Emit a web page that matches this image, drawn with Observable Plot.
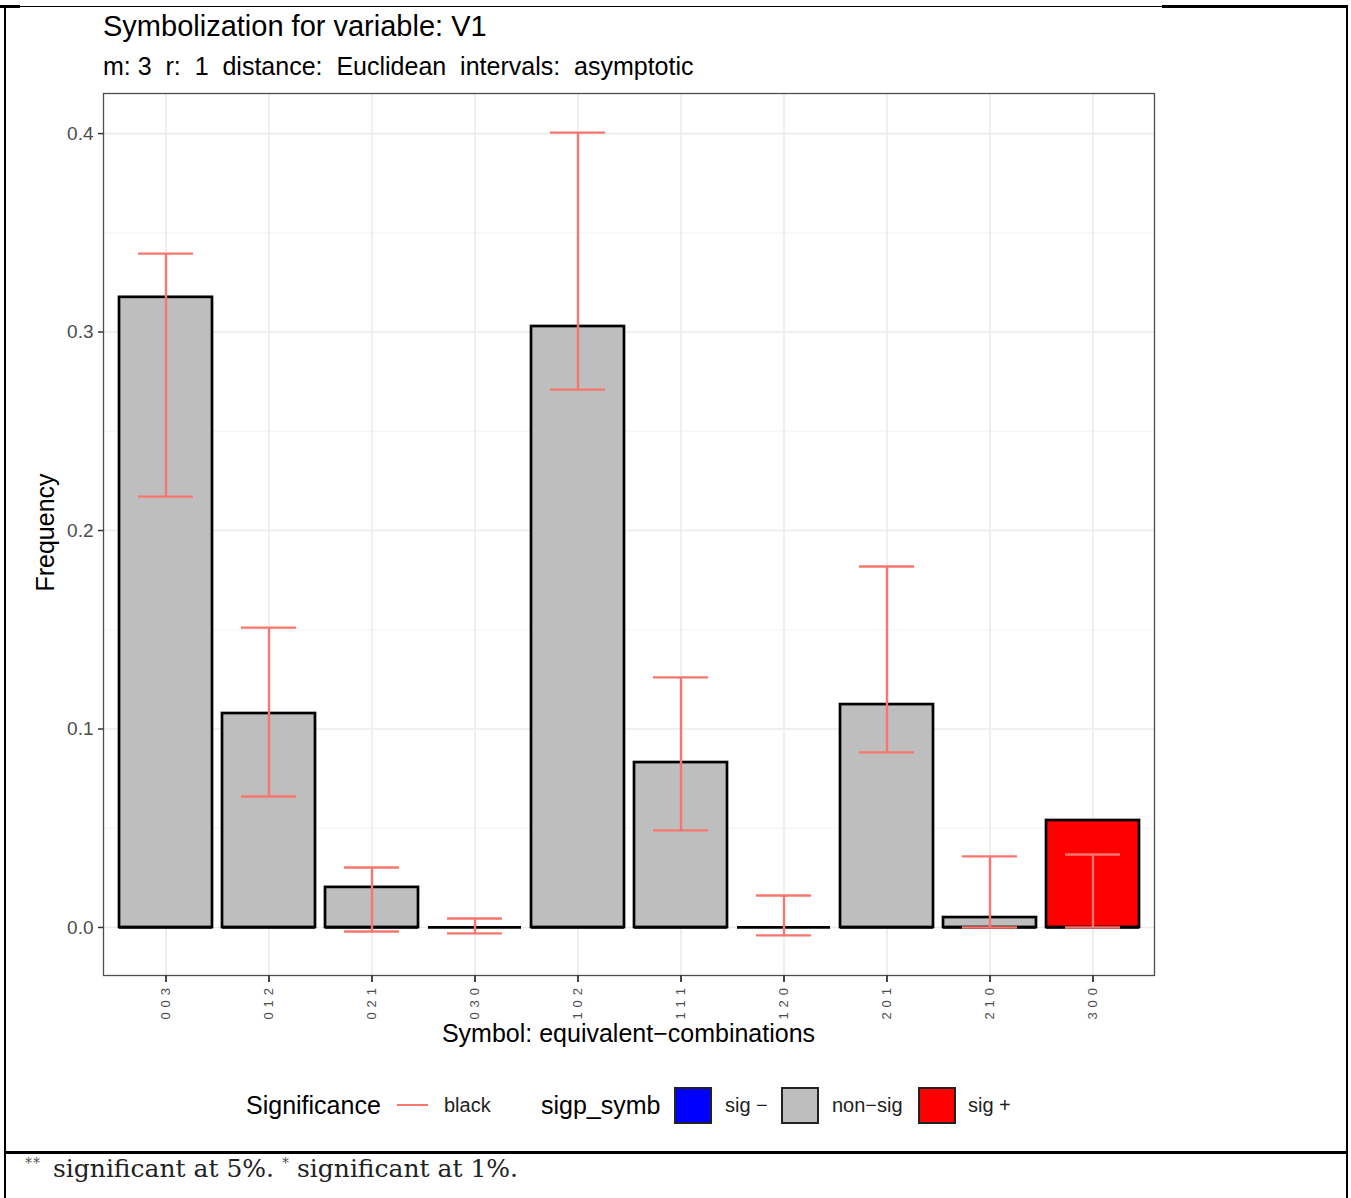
<!DOCTYPE html>
<html>
<head>
<meta charset="utf-8">
<script src="https://cdn.jsdelivr.net/npm/d3@7"></script>
<script src="https://cdn.jsdelivr.net/npm/@observablehq/plot@0.6"></script>
<style>
  html, body { margin: 0; padding: 0; background: #fff; }
  #page { position: relative; width: 1351px; height: 1198px; overflow: hidden; font-family: "Liberation Sans", Arial, sans-serif; background: #fff; }
  #page svg { position: absolute; left: 0; top: 0; }
  .t { position: absolute; white-space: pre; line-height: 1; color: #000; }
  .ln { position: absolute; background: #000; }
  .key { position: absolute; width: 34px; height: 33px; border: 2px solid #222; box-sizing: content-box; }
</style>
</head>
<body>
<div id="page"></div>
<script>
// ---- data ----
const symbols = ["003", "012", "021", "030", "102", "111", "120", "201", "210", "300"];
const frequency = [0.3175, 0.1078, 0.0202, 0, 0.3028, 0.0831, 0, 0.1123, 0.005, 0.0539];
const lowerCI = [0.2171, 0.066, -0.002, -0.003, 0.271, 0.0489, -0.004, 0.0882, 0.0, 0.0];
const upperCI = [0.3395, 0.1511, 0.0302, 0.0045, 0.4005, 0.126, 0.0161, 0.1819, 0.0358, 0.0368];
const significance = ["non-sig", "non-sig", "non-sig", "non-sig", "non-sig", "non-sig", "non-sig", "non-sig", "non-sig", "sig +"];
const sigLevels = ["sig -", "non-sig", "sig +"];
const sigColors = ["#0000FF", "#BEBEBE", "#FF0000"];
const yMajorTicks = [0, 0.1, 0.2, 0.3, 0.4];
const yMinorTicks = [0.05, 0.15, 0.25, 0.35];
const errColor = "#F8766D";

const data = symbols.map((s, i) => ({
  symbol: s, freq: frequency[i], lo: lowerCI[i], hi: upperCI[i], sig: significance[i]
}));

const page = document.getElementById("page");

const chart = Plot.plot({
  width: 1351,
  height: 1060,
  marginLeft: 103,
  marginRight: 197,
  marginTop: 93,
  marginBottom: 85,
  style: { fontFamily: "'Liberation Sans', Arial, sans-serif", background: "transparent", overflow: "visible" },
  x: { type: "band", domain: symbols, paddingInner: 0.1, paddingOuter: 0.15, align: 0.5 },
  y: { domain: [-0.0242, 0.4202] },
  color: { domain: sigLevels, range: sigColors },
  marks: [
    Plot.gridY(yMinorTicks, { stroke: "#F2F2F2", strokeOpacity: 1, strokeWidth: 1 }),
    Plot.gridY(yMajorTicks, { stroke: "#EBEBEB", strokeOpacity: 1, strokeWidth: 1.6 }),
    Plot.gridX(symbols, { stroke: "#EBEBEB", strokeOpacity: 1, strokeWidth: 1.6 }),
    Plot.barY(data, { x: "symbol", y: "freq", fill: "sig", stroke: "#000", strokeWidth: 2.7 }),
    Plot.tickY(data, { x: "symbol", y: () => 0, stroke: "#000", strokeWidth: 2.7 }),
    Plot.ruleX(data, { x: "symbol", y1: "lo", y2: "hi", stroke: errColor, strokeWidth: 2.4 }),
    Plot.tickY(data, { x: "symbol", y: "hi", stroke: errColor, strokeWidth: 2.4, insetLeft: 19, insetRight: 19 }),
    Plot.tickY(data, { x: "symbol", y: "lo", stroke: errColor, strokeWidth: 2.4, insetLeft: 19, insetRight: 19 }),
    Plot.frame({ stroke: "#4d4d4d", strokeWidth: 1.3 }),
    Plot.axisY(yMajorTicks, { tickFormat: d3.format(".1f"), tickSize: 5, tickPadding: 5, fontSize: 19, fill: "#4D4D4D", stroke: "#333", strokeWidth: 1.5, label: null }),
    Plot.axisX(symbols, { tickFormat: d => d.split("").join(" "), tickRotate: -90, tickSize: 7, tickPadding: 5, fontSize: 13, fill: "#4D4D4D", stroke: "#333", strokeWidth: 1.8, label: null })
  ]
});
page.appendChild(chart);
chart.querySelectorAll('g[aria-label="y-axis tick label"]').forEach(g => { g.setAttribute("font-size", 19); g.querySelectorAll("text").forEach(t => t.style.fontSize = "19px"); });
chart.querySelectorAll('g[aria-label="x-axis tick label"]').forEach(g => { g.setAttribute("font-size", 13); g.querySelectorAll("text").forEach(t => { t.style.fontSize = "13px"; t.style.letterSpacing = "0.6px"; }); });

function addText(txt, left, top, size, extra) {
  const d = document.createElement("div");
  d.className = "t";
  d.textContent = txt;
  d.style.left = left + "px";
  d.style.top = top + "px";
  d.style.fontSize = size + "px";
  if (extra) Object.assign(d.style, extra);
  page.appendChild(d);
  return d;
}
function addLine(left, top, w, h, color) {
  const d = document.createElement("div");
  d.className = "ln";
  Object.assign(d.style, { left: left + "px", top: top + "px", width: w + "px", height: h + "px" });
  if (color) d.style.background = color;
  page.appendChild(d);
}

// titles
addText("Symbolization for variable: V1", 103, 12, 29);
addText("m: 3  r:  1  distance:  Euclidean  intervals:  asymptotic", 103, 54, 25);

// axis titles
addText("Symbol: equivalent\u2212combinations", 0, 1021, 25, { width: "1257px", textAlign: "center" });
addText("Frequency", -55, 520, 25, { width: "200px", textAlign: "center", transform: "rotate(-90deg)", transformOrigin: "100px 12.5px" });

// legend
addText("Significance", 246, 1093, 25);
addLine(397, 1104, 31, 2.4, errColor);
addText("black", 444, 1095, 20, { color: "#222" });
addText("sigp_symb", 541, 1093, 25);
const keyDefs = [[674, "#0000FF", "sig \u2212", 725], [781, "#BEBEBE", "non\u2212sig", 832], [918, "#FF0000", "sig +", 968]];
keyDefs.forEach(([x, col, lab, tx]) => {
  const k = document.createElement("div");
  k.className = "key";
  k.style.left = x + "px";
  k.style.top = "1087px";
  k.style.background = col;
  page.appendChild(k);
  addText(lab, tx, 1095, 20, { color: "#222" });
});

// footnote
const fn = addText("", 25, 1156, 25, { fontFamily: "'DejaVu Serif', 'Liberation Serif', serif", color: "#222" });
fn.innerHTML = '<span style="font-size:14px;vertical-align:9px;color:#555;letter-spacing:1px;margin-right:4px">**</span> significant at 5%. <span style="font-size:14px;vertical-align:9px;color:#555">*</span> significant at 1%.';

// frame / table borders
addLine(4, 5, 2, 1193);
addLine(1346, 6, 2, 1192);
addLine(4, 1151, 1344, 2.5);
addLine(0, 5, 20, 2.5);
addLine(20, 6, 1142, 1.2);
addLine(1162, 5, 186, 2.5);
</script>
</body>
</html>
